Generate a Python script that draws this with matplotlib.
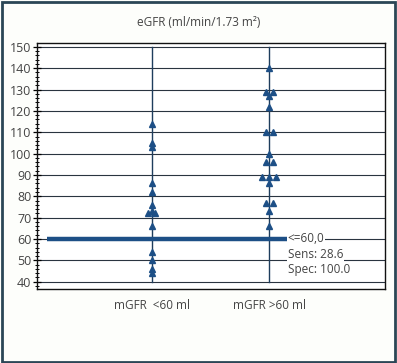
import matplotlib
matplotlib.use("Agg")
import matplotlib.pyplot as plt
from matplotlib.patches import Rectangle
from matplotlib.ticker import MultipleLocator
import numpy as np

# Data
groups = ["mGFR  <60 ml", "mGFR >60 ml"]
egfr_low = [114, 105, 103, 86, 82, 76, 73, 72, 72, 66, 54, 50, 46, 44]
egfr_high = [140, 129, 129, 127, 122, 110, 110, 100, 96, 96, 89, 89, 89, 86, 77, 77, 73, 66]
cutoff = 60.0
cutoff_text = ["<=60,0", "Sens: 28.6", "Spec: 100.0"]

plt.rcParams['font.family'] = ['Open Sans', 'DejaVu Sans']

blue = "#1d4f86"
line_col = "#1e3d5c"
text_col = "#444444"

fig = plt.figure(figsize=(3.97, 3.63), dpi=100)
fig.patch.set_facecolor("#fdfefb")
ax = fig.add_axes([0.093, 0.204, 0.877, 0.677])
ax.set_facecolor("white")

# Outer frame round the whole figure
fig.patches.append(Rectangle((0.006, 0.004), 0.988, 0.99, transform=fig.transFigure,
                             fill=False, edgecolor="#2b4656", linewidth=2))

def tie_offsets(values, step=0.06):
    # spread equal values side by side
    offs = np.zeros(len(values))
    vals = np.array(values)
    for v in np.unique(vals):
        idx = np.where(vals == v)[0]
        n = len(idx)
        offs[idx] = (np.arange(n) - (n - 1) / 2) * step
    return offs

# Horizontal grid
for g in range(40, 151, 10):
    ax.axhline(g, color="#2a3440", linewidth=0.8, zorder=1)

# Cut-off line
ax.plot([-0.89, 1.15], [cutoff, cutoff], color=blue, linewidth=3.2, zorder=3,
        solid_capstyle="butt")

for i, vals in enumerate([egfr_low, egfr_high]):
    ax.plot([i, i], [40, 150], color=line_col, linewidth=1.0, zorder=2)
    ax.plot(i + tie_offsets(vals), vals, linestyle="none", marker="^",
            markersize=5, color=blue, zorder=4)

for k, t in enumerate(cutoff_text):
    ax.text(1.16, cutoff - k * 7.2, t, fontsize=8.5, color=text_col,
            va="center", ha="left", zorder=5,
            bbox=dict(facecolor="white", edgecolor="none", pad=0.5))

ax.set_xlim(-0.98, 1.99)
ax.set_ylim(36.6, 151.7)
ax.set_yticks(range(40, 151, 10))
ax.yaxis.set_minor_locator(MultipleLocator(2))
ax.tick_params(axis="y", which="major", direction="inout", length=6, width=0.9,
               labelsize=9, labelcolor=text_col, pad=1)
ax.tick_params(axis="y", which="minor", direction="inout", length=3.5, width=0.7)
ax.set_xticks([0, 1])
ax.set_xticklabels(groups)
ax.tick_params(axis="x", length=0, labelsize=8.5, labelcolor=text_col, pad=7)

for s in ax.spines.values():
    s.set_color("#111111")
    s.set_linewidth(1.0)

fig.text(0.5, 0.937, "eGFR (ml/min/1.73 m²)", ha="center", va="center",
         fontsize=8.5, color=text_col)

fig.savefig("out.png", dpi=100, facecolor=fig.get_facecolor())
